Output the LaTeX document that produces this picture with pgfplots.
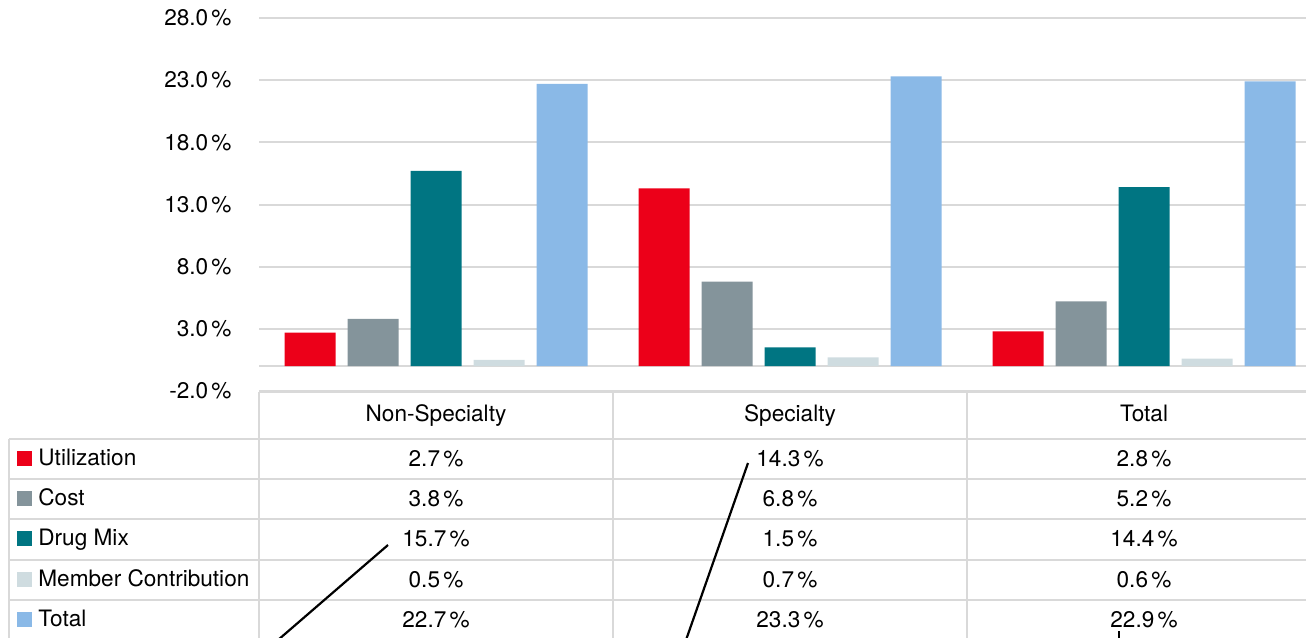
\documentclass[border=0pt]{standalone}
\usepackage{pgfplots}
\pgfplotsset{compat=1.18}
\usepackage{fontspec}
\setmainfont{TeX Gyre Heros}
\definecolor{cUtil}{HTML}{EC0019}
\definecolor{cCost}{HTML}{84949B}
\definecolor{cMix}{HTML}{007582}
\definecolor{cMem}{HTML}{CFDCE0}
\definecolor{cTot}{HTML}{8AB9E7}
\definecolor{cGrid}{HTML}{D9D9D9}
\newcommand{\tf}{\fontsize{11.3}{13}\selectfont}
\newcommand{\pc}{\kern1.6pt\%}
\begin{document}
\begin{tikzpicture}
\useasboundingbox (0,0) rectangle (653pt,-318.5pt);
\clip (0,0) rectangle (653pt,-318.5pt);
\begin{axis}[
  at={(129.5pt,-9pt)}, anchor=north west,
  scale only axis, width=531pt, height=186.5pt,
  xmin=-0.5, xmax=2.5, ymin=-2, ymax=28,
  axis line style={draw=none},
  xtick=\empty,
  ytick={-2,3,8,13,18,23,28},
  yticklabels={-2.0\pc,3.0\pc,8.0\pc,13.0\pc,18.0\pc,23.0\pc,28.0\pc},
  yticklabel style={font=\tf, anchor=east, inner sep=0pt, xshift=-13.5pt},
  major tick length=0pt,
  ymajorgrids, grid style={cGrid, line width=1pt},
  extra y ticks={0}, extra y tick labels={},
  extra y tick style={grid style={cGrid, line width=1pt}},
  ybar=6pt, bar width=25.5pt,
  clip=false,
]
\addplot[fill=cUtil, draw=none] coordinates {(0,2.7) (1,14.3) (2,2.8)};
\addplot[fill=cCost, draw=none] coordinates {(0,3.8) (1,6.8) (2,5.2)};
\addplot[fill=cMix, draw=none] coordinates {(0,15.7) (1,1.5) (2,14.4)};
\addplot[fill=cMem, draw=none] coordinates {(0,0.5) (1,0.7) (2,0.6)};
\addplot[fill=cTot, draw=none] coordinates {(0,22.7) (1,23.3) (2,22.9)};
\end{axis}
\begin{scope}[x=0.5pt, y=-0.5pt, every node/.style={font=\tf, text height=0.72em, text depth=0.22em, inner sep=0pt, yshift=-1.5pt}]
  % table grid
  \draw[cGrid, line width=1pt] (259,392) -- (1321,392);
  \foreach \yy in {439,479,519,560,600} {\draw[cGrid, line width=1pt] (9,\yy) -- (1321,\yy);}
  \draw[cGrid, line width=1pt] (9,439) -- (9,640);
  \foreach \xx in {259,613,967,1321} {\draw[cGrid, line width=1pt] (\xx,392) -- (\xx,640);}
  % header
  \node at (436,413) {Non-Specialty};
  \node at (790,413) {Specialty};
  \node at (1144,413) {Total};
  % legend column
  \foreach \yc/\col/\lab in {458/cUtil/Utilization, 498/cCost/Cost, 538.5/cMix/Drug Mix, 579/cMem/Member Contribution, 619/cTot/Total} {
    \fill[\col] (17,\yc-7.5) rectangle (32,\yc+7.5);
    \node[anchor=west] at (38,\yc-1) {\lab};
  }
  % values
  \foreach \yc/\a/\b/\c in {458/2.7/14.3/2.8, 498/3.8/6.8/5.2, 538.5/15.7/1.5/14.4, 579/0.5/0.7/0.6, 619/22.7/23.3/22.9} {
    \node at (436,\yc) {\a\pc};
    \node at (790,\yc) {\b\pc};
    \node at (1144,\yc) {\c\pc};
  }
  % leader lines
  \draw[black, line width=1.1pt] (388,545) -- (278,640);
  \draw[black, line width=1.1pt] (748,463) -- (686,640);
  \draw[black, line width=1.1pt] (1119,631) -- (1119,640);
\end{scope}
\end{tikzpicture}
\end{document}
